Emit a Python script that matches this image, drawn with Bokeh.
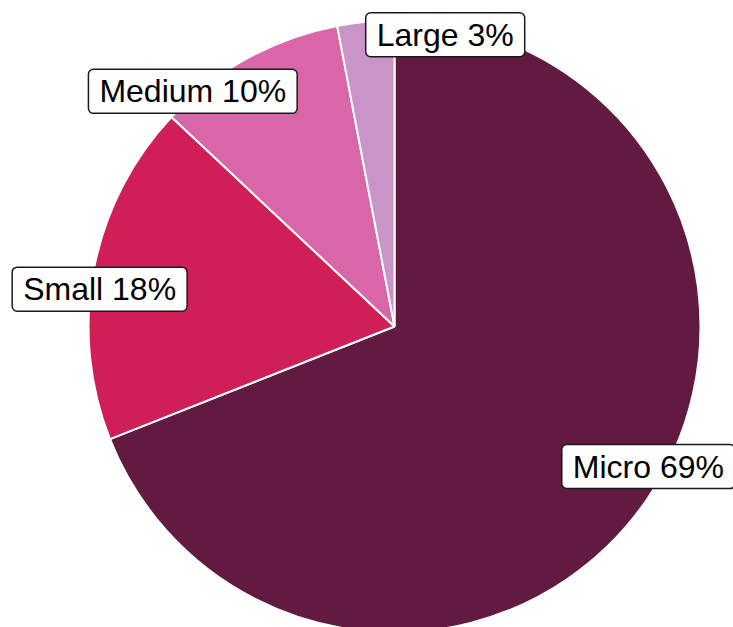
import math
from bokeh.plotting import figure
from bokeh.models import Range1d, ColumnDataSource
from bokeh.core.properties import value
from bokeh.embed import file_html
from bokeh.resources import INLINE

# ---- data ----
categories = ["Micro", "Small", "Medium", "Large"]
shares = [69, 18, 10, 3]
colors = ["#621A40", "#D01E56", "#D966A6", "#C994C7"]

# ---- layout (pixel-like data space, y up) ----
W, H = 733, 627
CX, CY = 394, H - 326
R = 306
R_LAB = 290
# per-label nudges (screen px, x right / y down) away from the mid-angle anchor
label_nudge = [(14, -23), (-10, 17), (-62, 19), (78, -3)]

total = float(sum(shares))
starts, ends, label_x, label_y, texts = [], [], [], [], []
cum = 0.0
for cat, s, (nx, ny) in zip(categories, shares, label_nudge):
    f0 = cum / total
    f1 = (cum + s) / total
    cum += s
    # clockwise from 12 o'clock -> anticlock angles
    starts.append(math.pi / 2 - f1 * 2 * math.pi)
    ends.append(math.pi / 2 - f0 * 2 * math.pi)
    mid = (f0 + f1) / 2 * 2 * math.pi
    label_x.append(CX + R_LAB * math.sin(mid) + nx)
    label_y.append(CY + R_LAB * math.cos(mid) - ny)
    texts.append(f"{cat} {round(s / total * 100)}%")

src = ColumnDataSource(dict(cat=categories, start=starts, end=ends, color=colors))
lab = ColumnDataSource(dict(x=label_x, y=label_y, text=texts))

p = figure(width=W, height=H, x_range=Range1d(0, W), y_range=Range1d(0, H),
           output_backend="svg", toolbar_location=None,
           x_axis_type=None, y_axis_type=None, min_border=0)
p.outline_line_color = None
p.grid.visible = False
p.background_fill_color = "white"
p.border_fill_color = "white"

p.wedge(x=CX, y=CY, radius=R, start_angle="start", end_angle="end",
        direction="anticlock", fill_color="color", line_color="white",
        line_width=2, source=src)

p.text(x="x", y="y", text="text", source=lab, anchor="center",
       text_font=value("Liberation Sans"), text_font_size="32px",
       text_color="black", background_fill_color="white",
       border_line_color="#1a1a1a", border_line_width=1.5,
       border_radius=5, padding=(11, 4))

open("out.html", "w").write(file_html(p, INLINE))
